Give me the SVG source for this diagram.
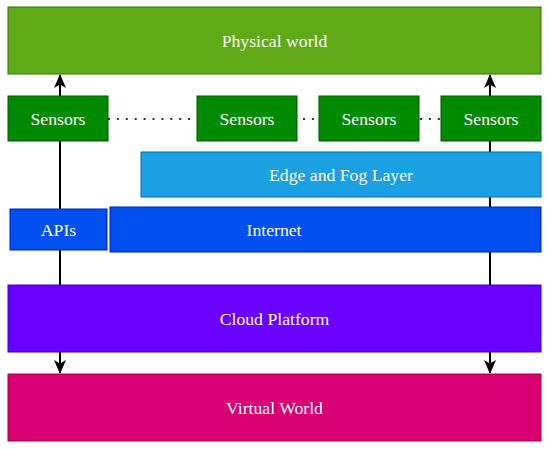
<svg xmlns="http://www.w3.org/2000/svg" width="550" height="450" viewBox="0 0 550 450">
<defs>
<marker id="arr" viewBox="0 0 14 12" refX="13" refY="6" markerWidth="14" markerHeight="12" markerUnits="userSpaceOnUse" orient="auto">
<path d="M0,0 L14,6 L0,12 L3.5,6 Z" fill="#000"/>
</marker>
</defs>
<style>
text{font-family:'Liberation Serif','Tinos','DejaVu Serif',serif;font-size:17.7px;fill:#ffffff;text-anchor:middle}
.phys{fill:#60a917;stroke:#2d7600}
.sens{fill:#008a00;stroke:#005700}
.edge{fill:#1ba1e2;stroke:#006eaf}
.net{fill:#0050ef;stroke:#001dbc}
.cloud{fill:#6a00ff;stroke:#3700cc}
.virt{fill:#d80073;stroke:#a50040}
.conn{stroke:#000;stroke-width:2;fill:none}
.dot{stroke:#333;stroke-width:2;fill:none;stroke-dasharray:2 6.9}
</style>
<g id="connectors">
<line class="conn" x1="60" y1="285" x2="60" y2="75" marker-end="url(#arr)"/>
<line class="conn" x1="490" y1="285" x2="490" y2="75" marker-end="url(#arr)"/>
<line class="conn" x1="60" y1="352" x2="60" y2="373" marker-end="url(#arr)"/>
<line class="conn" x1="490" y1="352" x2="490" y2="373" marker-end="url(#arr)"/>
<line class="dot" x1="108" y1="119" x2="197" y2="119"/>
<line class="dot" x1="303" y1="119" x2="319" y2="119"/>
<line class="dot" x1="420" y1="119" x2="441" y2="119"/>
</g>
<g id="physical"><rect class="phys" x="8" y="7" width="533" height="67"/><text x="274.5" y="46.5">Physical world</text></g>
<g id="sensors1"><rect class="sens" x="8" y="96" width="100" height="45"/><text x="58" y="124.5">Sensors</text></g>
<g id="sensors2"><rect class="sens" x="197" y="96" width="100" height="45"/><text x="247" y="124.5">Sensors</text></g>
<g id="sensors3"><rect class="sens" x="319" y="96" width="100" height="45"/><text x="369" y="124.5">Sensors</text></g>
<g id="sensors4"><rect class="sens" x="441" y="96" width="100" height="45"/><text x="491" y="124.5">Sensors</text></g>
<g id="edgefog"><rect class="edge" x="141" y="152" width="400" height="45"/><text x="341" y="180.5">Edge and Fog Layer</text></g>
<g id="apis"><rect class="net" x="10" y="209" width="97" height="41"/><text x="58.5" y="235.5">APIs</text></g>
<g id="internet"><rect class="net" x="110" y="207" width="431" height="45"/><text x="274" y="235.5">Internet</text></g>
<g id="cloud"><rect class="cloud" x="8" y="285" width="533" height="67"/><text x="274.5" y="324.5">Cloud Platform</text></g>
<g id="virtual"><rect class="virt" x="8" y="374" width="533" height="67"/><text x="274.5" y="413.5">Virtual World</text></g>
</svg>
